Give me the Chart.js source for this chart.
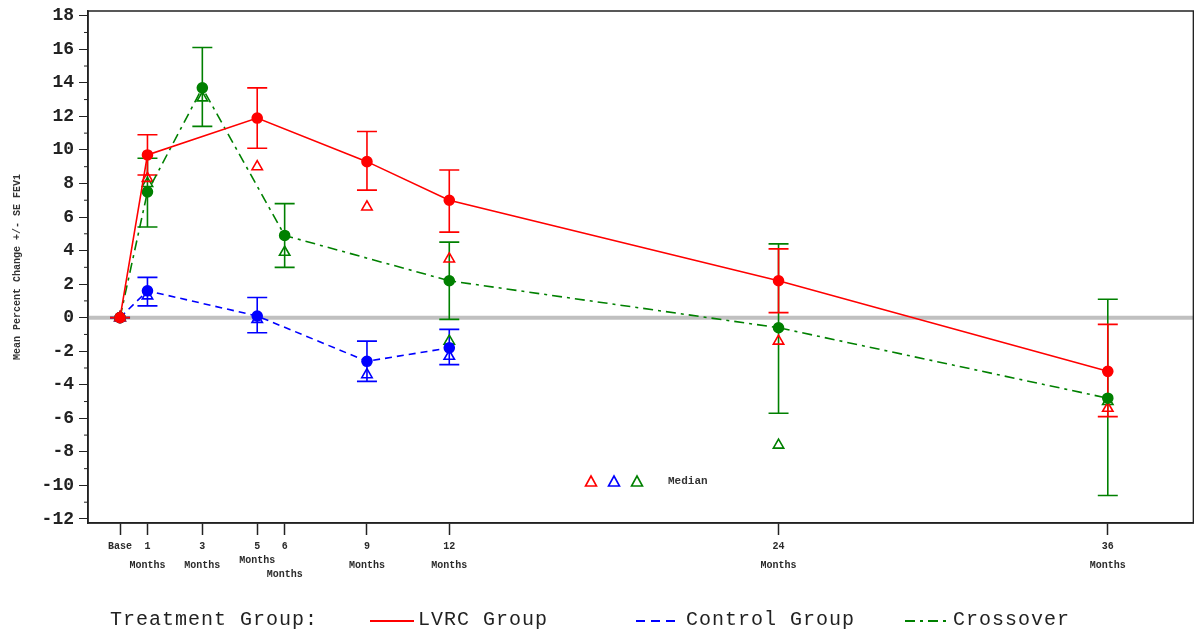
<!DOCTYPE html>
<html><head><meta charset="utf-8">
<script src="https://cdn.jsdelivr.net/npm/chart.js@4/dist/chart.umd.min.js"></script>
<style>
html,body{margin:0;padding:0;background:#fff;overflow:hidden;}
#wrap{position:relative;width:1194px;height:635px;overflow:hidden;}
#c{position:absolute;left:0;top:0;}
.lg{position:absolute;font-family:'Liberation Mono',monospace;font-size:20px;letter-spacing:1px;color:#222;white-space:nowrap;line-height:24px;top:608px;}
.sw{position:absolute;top:615px;}
.md{position:absolute;top:474px;}
#medtxt{position:absolute;left:668px;top:475px;font:bold 11px 'Liberation Mono',monospace;color:#333;}
</style></head>
<body><div id="wrap">
<canvas id="c" width="1201" height="635"></canvas>
<svg class="md" style="left:584px" width="14" height="14"><polygon points="7,2 12.5,12 1.5,12" fill="none" stroke="#ff0000" stroke-width="1.6"/></svg>
<svg class="md" style="left:607px" width="14" height="14"><polygon points="7,2 12.5,12 1.5,12" fill="none" stroke="#0000ff" stroke-width="1.6"/></svg>
<svg class="md" style="left:630px" width="14" height="14"><polygon points="7,2 12.5,12 1.5,12" fill="none" stroke="#008000" stroke-width="1.6"/></svg>
<div id="medtxt">Median</div>
<div class="lg" style="left:110px">Treatment Group:</div>
<svg class="sw" style="left:370px" width="44" height="12"><line x1="0" y1="6" x2="44" y2="6" stroke="#ff0000" stroke-width="2"/></svg>
<div class="lg" style="left:418px">LVRC Group</div>
<svg class="sw" style="left:636px" width="44" height="12"><line x1="0" y1="6" x2="44" y2="6" stroke="#0000ff" stroke-width="2" stroke-dasharray="9,6"/></svg>
<div class="lg" style="left:686px">Control Group</div>
<svg class="sw" style="left:905px" width="44" height="12"><line x1="0" y1="6" x2="44" y2="6" stroke="#008000" stroke-width="2" stroke-dasharray="10,5,3,5"/></svg>
<div class="lg" style="left:953px">Crossover</div>
</div>
<script>
// ---- tick labels ----
const xTickValues = [0, 1, 3, 5, 6, 9, 12, 24, 36];
const xTickTop = ['Base', '1', '3', '5', '6', '9', '12', '24', '36'];
const xTickBottom = ['', 'Months', 'Months', 'Months', 'Months', 'Months', 'Months', 'Months', 'Months'];
const yTickValues = [-12, -10, -8, -6, -4, -2, 0, 2, 4, 6, 8, 10, 12, 14, 16, 18];

// ---- LVRC Group ----
const lvrcX = [0, 1, 5, 9, 12, 24, 36];
const lvrcMean = [0, 9.7, 11.9, 9.3, 7.0, 2.2, -3.2];
const lvrcLow = [0, 8.5, 10.1, 7.6, 5.1, 0.3, -5.9];
const lvrcHigh = [0, 10.9, 13.7, 11.1, 8.8, 4.1, -0.4];
const lvrcMedian = [0, 8.3, 9.0, 6.6, 3.5, -1.4, -5.4];

// ---- Control Group ----
const ctrlX = [0, 1, 5, 9, 12];
const ctrlMean = [0, 1.6, 0.1, -2.6, -1.8];
const ctrlLow = [0, 0.7, -0.9, -3.8, -2.8];
const ctrlHigh = [0, 2.4, 1.2, -1.4, -0.7];
const ctrlMedian = [0, 1.3, -0.1, -3.4, -2.3];

// ---- Crossover ----
const crossX = [0, 1, 3, 6, 12, 24, 36];
const crossMean = [0, 7.5, 13.7, 4.9, 2.2, -0.6, -4.8];
const crossLow = [0, 5.4, 11.4, 3.0, -0.1, -5.7, -10.6];
const crossHigh = [0, 9.5, 16.1, 6.8, 4.5, 4.4, 1.1];
const crossMedian = [0, 8.0, 13.1, 3.9, -1.4, -7.6, -5.0];

const RED = '#ff0000', BLUE = '#0000ff', GREEN = '#008000';
const pts = (xs, ys) => xs.map((x, i) => ({x: x, y: ys[i]}));

const errorGroups = [
  {x: crossX, low: crossLow, high: crossHigh, color: GREEN},
  {x: ctrlX, low: ctrlLow, high: ctrlHigh, color: BLUE},
  {x: lvrcX, low: lvrcLow, high: lvrcHigh, color: RED}
];

const decor = {
  id: 'decor',
  beforeDatasetsDraw(chart) {
    const {ctx, chartArea: a, scales: {x, y}} = chart;
    ctx.save();
    ctx.strokeStyle = '#c0c0c0';
    ctx.lineWidth = 4;
    ctx.beginPath();
    const y0 = y.getPixelForValue(0);
    ctx.moveTo(a.left, y0); ctx.lineTo(a.right, y0); ctx.stroke();
    ctx.lineWidth = 1.6;
    errorGroups.forEach(g => {
      ctx.strokeStyle = g.color;
      g.x.forEach((xv, i) => {
        const px = x.getPixelForValue(xv);
        const pl = y.getPixelForValue(g.low[i]);
        const ph = y.getPixelForValue(g.high[i]);
        ctx.beginPath();
        ctx.moveTo(px, pl); ctx.lineTo(px, ph);
        ctx.moveTo(px - 10, pl); ctx.lineTo(px + 10, pl);
        ctx.moveTo(px - 10, ph); ctx.lineTo(px + 10, ph);
        ctx.stroke();
      });
    });
    ctx.restore();
  },
  afterDraw(chart) {
    const {ctx, chartArea: a, scales: {x, y}} = chart;
    ctx.save();
    ctx.strokeStyle = '#222';
    ctx.lineWidth = 1.5;
    ctx.strokeRect(a.left, a.top, a.right - a.left, a.bottom - a.top);
    ctx.lineWidth = 1;
    for (let v = -11; v <= 17; v += 2) {
      const py = y.getPixelForValue(v);
      ctx.beginPath(); ctx.moveTo(a.left - 4, py); ctx.lineTo(a.left, py); ctx.stroke();
    }
    ctx.fillStyle = '#2a2a2a';
    ctx.font = 'bold 10px "Liberation Mono", monospace';
    ctx.textAlign = 'center';
    ctx.textBaseline = 'middle';
    const drop = {5: 37, 6: 51};
    xTickValues.forEach((v, i) => {
      const px = x.getPixelForValue(v);
      ctx.fillText(xTickTop[i], px, a.bottom + 23);
      if (xTickBottom[i]) ctx.fillText(xTickBottom[i], px, a.bottom + (drop[v] || 42));
    });
    ctx.restore();
  }
};

new Chart(document.getElementById('c'), {
  type: 'line',
  data: {
    datasets: [
      {label: 'LVRC Group', data: pts(lvrcX, lvrcMean), borderColor: RED, backgroundColor: RED,
       borderWidth: 1.6, pointRadius: 5, pointBackgroundColor: RED, pointBorderColor: RED, order: 1},
      {label: 'Control Group', data: pts(ctrlX, ctrlMean), borderColor: BLUE, backgroundColor: BLUE,
       borderWidth: 1.6, borderDash: [7, 5], pointRadius: 5, pointBackgroundColor: BLUE, pointBorderColor: BLUE, order: 3},
      {label: 'Crossover', data: pts(crossX, crossMean), borderColor: GREEN, backgroundColor: GREEN,
       borderWidth: 1.6, borderDash: [10, 5, 3, 5], pointRadius: 5, pointBackgroundColor: GREEN, pointBorderColor: GREEN, order: 2},
      {label: 'LVRC Median', data: pts(lvrcX, lvrcMedian), showLine: false, pointStyle: 'triangle', pointRadius: 6,
       pointBorderWidth: 1.6, pointBorderColor: RED, pointBackgroundColor: 'rgba(0,0,0,0)', order: 4},
      {label: 'Control Median', data: pts(ctrlX, ctrlMedian), showLine: false, pointStyle: 'triangle', pointRadius: 6,
       pointBorderWidth: 1.6, pointBorderColor: BLUE, pointBackgroundColor: 'rgba(0,0,0,0)', order: 5},
      {label: 'Crossover Median', data: pts(crossX, crossMedian), showLine: false, pointStyle: 'triangle', pointRadius: 6,
       pointBorderWidth: 1.6, pointBorderColor: GREEN, pointBackgroundColor: 'rgba(0,0,0,0)', order: 6}
    ]
  },
  options: {
    responsive: false,
    animation: false,
    devicePixelRatio: 1,
    layout: {padding: {top: 11, right: 0, left: 0, bottom: 0}},
    plugins: {legend: {display: false}, tooltip: {enabled: false}},
    elements: {line: {tension: 0}},
    scales: {
      x: {
        type: 'linear', min: -1.167, max: 39.12,
        afterBuildTicks: s => { s.ticks = xTickValues.map(v => ({value: v})); },
        afterFit: s => { s.height = 112; s.paddingLeft = 0; s.paddingRight = 0; },
        ticks: {display: false},
        grid: {drawOnChartArea: false, drawTicks: true, tickLength: 12, color: '#222', tickWidth: 1.5},
        border: {display: true, color: '#222', width: 1.5}
      },
      y: {
        type: 'linear', min: -12.24, max: 18.28,
        afterBuildTicks: s => { s.ticks = yTickValues.map(v => ({value: v})); },
        afterFit: s => { s.width = 88; s.paddingTop = 0; s.paddingBottom = 0; },
        ticks: {color: '#222', padding: 5, font: {family: '"Liberation Mono", monospace', size: 18, weight: 'bold'}},
        grid: {drawOnChartArea: false, drawTicks: true, tickLength: 9, color: '#222', tickWidth: 1},
        border: {display: true, color: '#222', width: 1.5},
        title: {display: true, text: 'Mean Percent Change +/- SE FEV1', color: '#333',
                font: {family: '"Liberation Mono", monospace', size: 10, weight: 'bold'}, padding: {top: 11, bottom: 0}}
      }
    }
  },
  plugins: [decor]
});
</script>
</body></html>
